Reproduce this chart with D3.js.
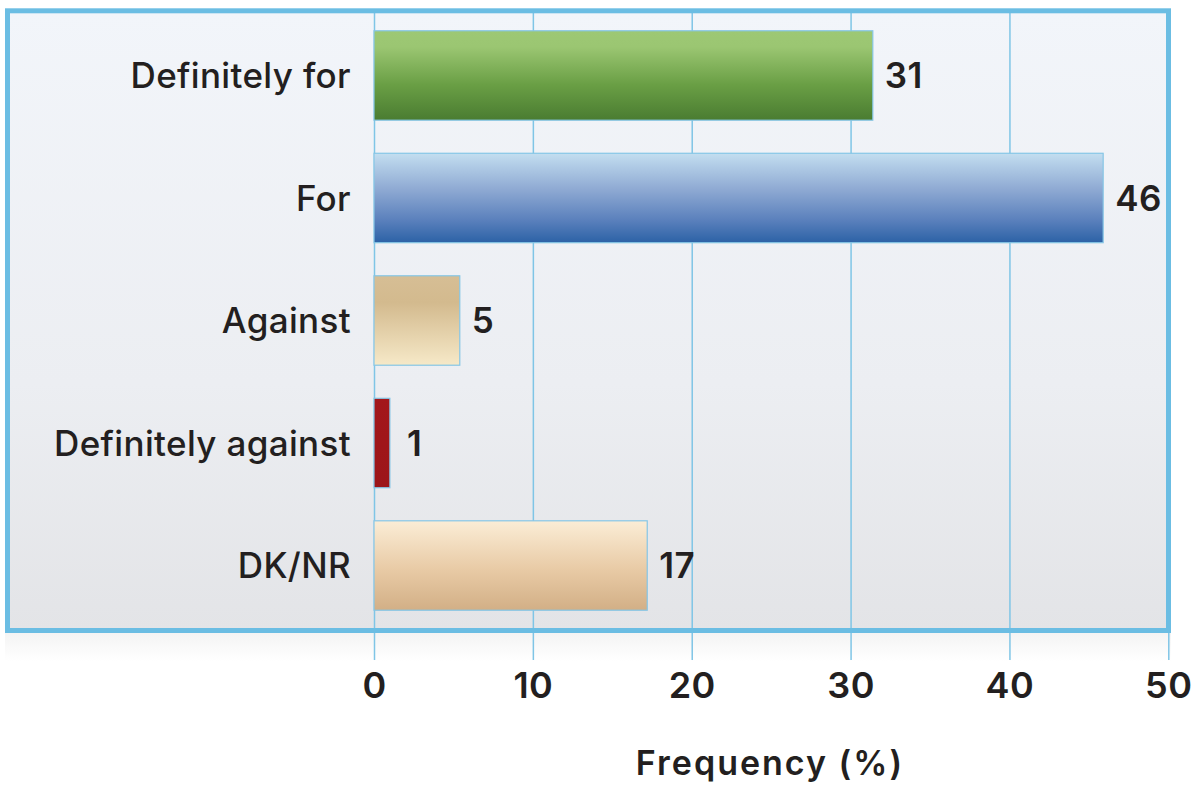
<!DOCTYPE html>
<html>
<head>
<meta charset="utf-8">
<script src="https://cdn.jsdelivr.net/npm/d3@7"></script>
<style>
  html, body { margin: 0; padding: 0; background: #ffffff; }
  svg { display: block; }
  text { font-family: Inter, "Open Sans", sans-serif; fill: #231f20; }
</style>
</head>
<body>
<svg id="chart" width="1201" height="787"></svg>
<script>
const categories = ["Definitely for", "For", "Against", "Definitely against", "DK/NR"];
const values = [31.4, 45.9, 5.4, 1.0, 17.2];
const valueLabels = ["31", "46", "5", "1", "17"];
const xTicks = [0, 10, 20, 30, 40, 50];
const xTitle = "Frequency (%)";

const svg = d3.select("#chart");
const defs = svg.append("defs");

const bg = defs.append("linearGradient").attr("id", "bgGrad").attr("x1", 0).attr("y1", 0).attr("x2", 0).attr("y2", 1);
bg.append("stop").attr("offset", "0%").attr("stop-color", "#f2f5fa");
bg.append("stop").attr("offset", "60%").attr("stop-color", "#eceef2");
bg.append("stop").attr("offset", "100%").attr("stop-color", "#e3e4e7");

const shadow = defs.append("linearGradient").attr("id", "shadowGrad").attr("x1", 0).attr("y1", 0).attr("x2", 0).attr("y2", 1);
shadow.append("stop").attr("offset", "0%").attr("stop-color", "#f4f4f4");
shadow.append("stop").attr("offset", "100%").attr("stop-color", "#ffffff");

function grad(id, stops) {
  const g = defs.append("linearGradient").attr("id", id).attr("x1", 0).attr("y1", 0).attr("x2", 0).attr("y2", 1);
  stops.forEach(s => g.append("stop").attr("offset", s[0]).attr("stop-color", s[1]));
  return "url(#" + id + ")";
}
const fills = [
  grad("g0", [["0%", "#9dc874"], ["18%", "#9bc672"], ["60%", "#6a9f45"], ["100%", "#4a7c31"]]),
  grad("g1", [["0%", "#c3def0"], ["40%", "#8faad3"], ["75%", "#5a80bc"], ["100%", "#2c62a6"]]),
  grad("g2", [["0%", "#d6be95"], ["30%", "#d3ba8e"], ["100%", "#f6e9c8"]]),
  grad("g3", [["0%", "#a3171b"], ["100%", "#9c1519"]]),
  grad("g4", [["0%", "#fbedd6"], ["55%", "#e8caa5"], ["100%", "#d2af86"]])
];

const x = d3.scaleLinear().domain([0, 50]).range([374, 1168.3]);
const y = d3.scaleBand().domain(categories).range([13, 628]).paddingInner(0.27).paddingOuter(0.145);

svg.append("rect").attr("x", 5).attr("y", 633).attr("width", 1166).attr("height", 28).attr("fill", "url(#shadowGrad)");

svg.append("rect").attr("x", 7.5).attr("y", 10.8).attr("width", 1161).attr("height", 619.7)
  .attr("fill", "url(#bgGrad)");

svg.append("g").attr("class", "grid")
  .attr("transform", "translate(0,660)")
  .call(d3.axisTop(x).tickValues(xTicks).tickSize(647).tickFormat(""))
  .call(g => g.select(".domain").remove())
  .call(g => g.selectAll("line").attr("stroke", "#7fc5e6").attr("stroke-width", 1.5));

svg.append("rect").attr("x", 7.5).attr("y", 10.8).attr("width", 1161).attr("height", 619.7)
  .attr("fill", "none").attr("stroke", "#6bbde3").attr("stroke-width", 5);

svg.append("g").selectAll("rect").data(categories).join("rect")
  .attr("x", x(0))
  .attr("y", d => y(d))
  .attr("width", (d, i) => x(values[i]) - x(0))
  .attr("height", y.bandwidth())
  .attr("fill", (d, i) => fills[i])
  .attr("stroke", "#86c6e6").attr("stroke-width", 1.2);

svg.append("g").selectAll("text").data(categories).join("text")
  .attr("x", (d, i) => x(values[i]) + (valueLabels[i] === "1" ? 17 : 12))
  .attr("y", d => y(d) + y.bandwidth() / 2)
  .attr("dy", "0.36em")
  .attr("font-size", 35).attr("font-weight", 600).attr("letter-spacing", 0.5)
  .text((d, i) => valueLabels[i]);

const yAxis = svg.append("g").attr("transform", "translate(351,0)")
  .call(d3.axisLeft(y).tickSize(0).tickPadding(0))
  .call(g => g.select(".domain").remove());
yAxis.selectAll("text").attr("font-size", 35).attr("font-weight", 500)
  .attr("font-family", "Inter, sans-serif").attr("fill", "#231f20").attr("dy", "0.36em")
  .attr("letter-spacing", 0.35);

const xAxis = svg.append("g").attr("transform", "translate(0,698)")
  .call(d3.axisBottom(x).tickValues(xTicks).tickSize(0).tickPadding(0))
  .call(g => g.select(".domain").remove());
xAxis.selectAll("text").attr("font-size", 36).attr("font-weight", 600)
  .attr("font-family", "Inter, sans-serif").attr("fill", "#231f20").attr("dy", 0)
  .attr("letter-spacing", 0.5);

svg.append("text").attr("x", 770).attr("y", 775).attr("text-anchor", "middle")
  .attr("font-size", 34).attr("font-weight", 600).attr("letter-spacing", 2)
  .text(xTitle);
</script>
</body>
</html>
